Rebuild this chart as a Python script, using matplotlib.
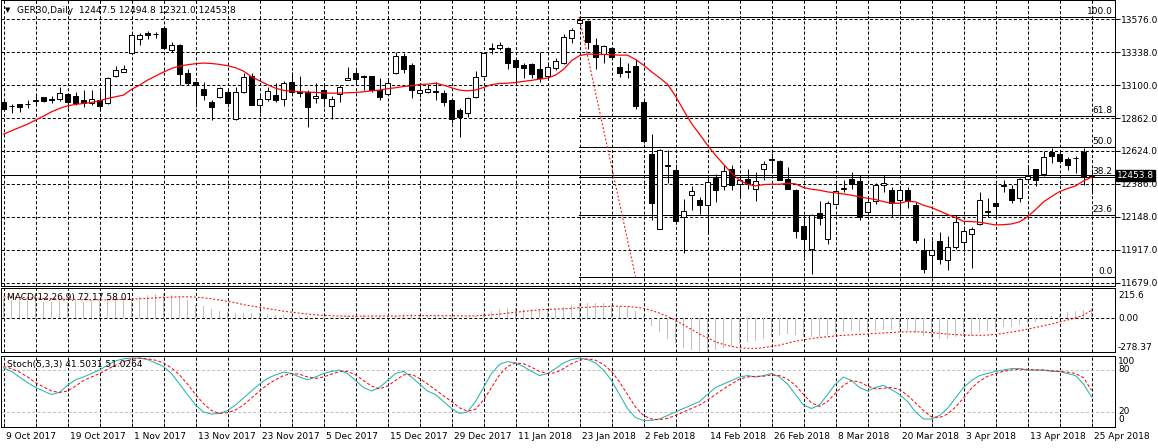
import matplotlib
matplotlib.use("Agg")
import matplotlib.pyplot as plt
import numpy as np

plt.rcParams['font.family'] = ['DejaVu Sans']
plt.rcParams['lines.scale_dashes'] = False

# ---------------- data ----------------
opens = [12982,12953,12963,12968,12994,13013,13004,13004,13035,13023,12994,12975,12994,12970,13165,13198,13330,13431,13475,13472,
         13511,13357,13391,13186,13124,13071,12980,13013,13052,12859,13049,13169,12960,13001,13028,13001,13124,13056,13052,13006,
         13064,12953,13037,13141,13186,13165,13165,13064,13035,13186,13311,13246,13042,13056,13059,13042,12994,12922,12898,13013,
         13165,13369,13367,13367,13282,13246,13254,13215,13169,13222,13258,13443,13547,13564,13391,13323,13367,13230,13201,13239,
         12980,12609,12068,12525,12494,12153,12314,12278,12242,12436,12378,12499,12393,12427,12357,12499,12573,12559,12424,12350,
         12085,11924,12179,11996,12249,12357,12427,12410,12189,12265,12381,12345,12278,12345,12241,11917,11876,11982,11845,11936,
         11972,12032,12104,12189,12256,12383,12357,12290,12424,12496,12465,12621,12604,12573,12580,12621,12447.5]
highs = [12994,12965,12968,12994,13023,13018,13023,13085,13042,13054,13066,13066,13059,13162,13239,13246,13475,13475,13494,13482,
         13528,13415,13398,13215,13133,13126,12994,13090,13066,13085,13186,13186,13042,13085,13119,13131,13193,13169,13066,13114,
         13102,13023,13102,13234,13215,13174,13169,13150,13138,13338,13330,13258,13102,13102,13126,13066,13006,12934,13018,13203,
         13342,13403,13415,13374,13287,13258,13258,13342,13270,13294,13470,13511,13593,13571,13439,13388,13371,13306,13258,13287,
         12994,12749,12643,12638,12537,12285,12374,12297,12441,12465,12528,12525,12446,12501,12477,12554,12614,12566,12511,12354,
         12165,12177,12266,12270,12393,12417,12475,12453,12297,12398,12453,12369,12364,12369,12261,12003,11984,12044,12013,12165,
         12085,12080,12333,12292,12393,12422,12381,12436,12525,12501,12626,12650,12621,12585,12595,12650,12494.8]
lows = [12922,12903,12910,12934,12963,12982,12970,12989,12934,12958,12946,12958,12922,12963,13162,13196,13328,13391,13431,13439,
        13359,13343,13100,13102,12946,12994,12850,13006,12946,12850,13042,12958,12898,12989,12982,12953,13030,13013,12802,12970,
        12946,12855,12982,13138,13102,13066,13054,12994,13030,13179,13186,13011,13013,13042,12994,12953,12826,12730,12874,13006,
        13162,13323,13355,13215,13119,13150,13150,13126,13162,13210,13254,13403,13535,13359,13215,13258,13294,13162,13150,12927,
        12686,12133,12066,12398,12124,11893,12205,12172,12037,12261,12350,12350,12297,12357,12268,12422,12470,12417,12354,12001,
        11864,11740,12092,11960,12237,12333,12357,12129,12172,12244,12333,12153,12165,12217,11965,11749,11722,11816,11768,11924,
        11907,11785,12092,12153,12153,12333,12256,12261,12412,12379,12446,12544,12544,12489,12470,12386,12321.0]
closes = [12929,12948,12946,12963,12987,12989,12994,13042,12982,12975,12970,13004,12955,13150,13208,13220,13463,13460,13465,13467,
          13367,13391,13179,13119,13100,13030,12946,13078,12970,13052,13162,12960,13001,13061,12994,13114,13054,13047,12941,13025,
          13006,13001,13092,13155,13148,13157,13066,13018,13114,13311,13220,13064,13066,13071,13054,12982,12855,12874,13006,13157,
          13330,13364,13388,13258,13234,13225,13181,13150,13230,13275,13451,13499,13571,13415,13306,13383,13302,13191,13193,12953,
          12701,12254,12638,12520,12124,12196,12342,12242,12407,12350,12480,12386,12422,12388,12415,12537,12566,12422,12354,12054,
          11994,12165,12148,12256,12342,12364,12391,12153,12263,12386,12400,12254,12345,12268,11984,11778,11915,11852,11936,12116,
          12052,12068,12278,12193,12229,12379,12273,12429,12446,12417,12585,12592,12556,12525,12576,12441,12453.8]
ma = [12749,12773,12797,12821,12850,12879,12910,12934,12953,12963,12970,12977,12989,13006,13018,13030,13071,13102,13138,13167,
      13196,13222,13239,13249,13256,13261,13258,13251,13242,13227,13203,13162,13133,13105,13080,13064,13059,13054,13052,13049,
      13047,13044,13044,13047,13049,13054,13061,13066,13076,13083,13092,13097,13107,13109,13116,13102,13083,13066,13061,13066,
      13085,13105,13114,13116,13121,13129,13136,13145,13153,13174,13215,13278,13314,13326,13323,13323,13321,13318,13318,13287,
      13246,13198,13155,13109,13023,12922,12826,12749,12669,12597,12532,12470,12417,12388,12376,12386,12388,12388,12395,12391,
      12364,12352,12345,12333,12326,12318,12309,12297,12287,12278,12263,12251,12251,12266,12261,12237,12220,12196,12170,12148,
      12121,12119,12114,12105,12095,12097,12102,12117,12153,12205,12261,12299,12335,12357,12376,12412,12439]

macd_main = [140,132,135,132,135,123,123,135,123,135,123,135,130,135,148,135,135,
             156,174,182,187,174,161,135,
             97,89,64,54,46,33,33,33,33,26,20,20,13,13,
             10,8,5,5,8,12,15,18,15,12,10,15,25,25,20,18,15,10,
             5,0,5,15,35,55,70,75,72,70,68,66,66,68,80,95,110,
             115,112,110,100,90,80,50,10,
             -60,-110,-160,-200,-235,-250,-258,-255,-245,-235,
             -220,-205,-190,-178,-165,-150,-135,-125,-135,-150,-150,-145,-135,-125,
             -110,-105,-110,-105,-100,-95,-95,-90,-95,-115,-140,-155,-160,-160,-150,-140,
             -130,-110,-100,-90,-75,-70,-55,-40,-30,-10,10,25,40,50,60,72.17]
macd_signal = [160,158,155,152,150,148,146,144,142,140,138,137,137,137,138,140,142,
               145,148,152,155,158,160,160,
               158,152,145,135,125,115,100,90,80,70,60,50,42,35,
               28,22,18,15,13,12,12,12,13,13,13,13,14,15,16,16,16,15,
               15,14,13,14,17,22,28,35,42,48,54,60,64,66,68,72,76,
               80,84,86,88,88,86,80,72,
               55,35,10,-20,-55,-90,-125,-155,-185,-205,
               -220,-230,-235,-235,-230,-220,-210,-195,-180,-170,-160,-152,-146,-140,
               -135,-132,-128,-125,-120,-117,-113,-110,-108,-108,-110,-115,-120,-125,-130,-133,
               -135,-135,-133,-128,-120,-110,-100,-88,-75,-62,-48,-33,-18,-2,20,58.01]
stoch_k = [83,78,70,62,55,50,45,48,58,66,70,75,80,87,93,96,97,
           97,95,90,85,75,60,45,30,20,17,18,22,30,40,50,60,68,
           73,77,75,70,66,70,75,78,80,75,65,55,50,55,65,75,78,
           70,60,50,45,35,25,18,20,35,55,75,88,92,90,85,78,72,
           75,82,90,95,97,95,90,80,65,45,25,12,8,8,10,15,20,
           25,30,35,45,55,60,65,70,72,70,72,75,70,60,45,30,25,
           30,45,60,70,65,55,50,55,58,52,45,35,20,10,10,15,25,
           40,55,65,72,75,78,80,82,82,80,80,80,78,78,75,72,60,41.5031]
stoch_d = [85,82,77,70,62,56,50,48,50,57,65,70,75,81,87,92,95,
           97,96,94,90,83,73,60,45,32,22,18,19,23,30,40,50,59,
           66,72,75,74,70,68,70,74,78,78,73,65,57,53,57,65,73,
           74,68,60,52,43,35,26,21,24,37,55,73,85,90,89,84,78,
           75,76,82,89,94,96,94,88,78,63,45,27,15,10,9,11,15,
           20,25,30,37,45,53,60,67,70,71,71,73,72,67,58,45,33,
           28,35,47,58,65,63,57,53,54,55,52,44,33,22,13,12,17,
           27,40,54,64,71,75,78,80,81,81,80,80,79,78,77,75,69,51.0264]

price_ticks = [13576.0, 13338.0, 13100.0, 12862.0, 12624.0, 12386.0, 12148.0, 11917.0, 11679.0]
date_labels = ['9 Oct 2017', '19 Oct 2017', '1 Nov 2017', '13 Nov 2017', '23 Nov 2017', '5 Dec 2017',
               '15 Dec 2017', '29 Dec 2017', '11 Jan 2018', '23 Jan 2018', '2 Feb 2018', '14 Feb 2018',
               '26 Feb 2018', '8 Mar 2018', '20 Mar 2018', '3 Apr 2018', '13 Apr 2018', '25 Apr 2018']
fib_high, fib_low = 13593, 11722
fib_start, fib_end = 72, 79
fib_levels = [100.0, 61.8, 50.0, 38.2, 23.6, 0.0]
bid = 12453.8
header = "GER30,Daily  12447.5 12494.8 12321.0 12453.8"

# ---------------- layout ----------------
W, H = 1158, 448
fig = plt.figure(figsize=(W / 100, H / 100), dpi=100)
fig.patch.set_facecolor('white')

def rect(x0, y0, x1, y1):
    return [x0 / W, 1 - y1 / H, (x1 - x0) / W, (y1 - y0) / H]

X0, X1 = 0.5, 1114.5
ax = fig.add_axes(rect(X0, 0.5, X1, 285.7))
axm = fig.add_axes(rect(X0, 287.7, X1, 352.3))
axs = fig.add_axes(rect(X0, 356.0, X1, 426.7))

n = len(closes)
idx = np.arange(n)
xl = ((X0 - 3.5) / 8, (X1 - 3.5) / 8)

LW = 0.72
DASH = (0, (2.2, 1.5))
for a in (ax, axm, axs):
    a.set_xlim(*xl)
    a.set_facecolor('white')
    for s in a.spines.values():
        s.set_linewidth(LW)
        s.set_color('black')
    a.set_xticks([])
    a.tick_params(axis='y', which='both', left=False, right=False, labelleft=False, labelright=False)
    for k in range(0, n, 4):
        a.axvline(k, color='black', lw=LW, ls=DASH, zorder=0.5)

# ---------------- main price panel ----------------
pp = 7.202
ax.set_ylim(13576 - (285.7 - 19.3) * pp, 13576 + (19.3 - 0.5) * pp)
grid_levels = np.linspace(13576, 11679, len(price_ticks))
for g in grid_levels:
    ax.axhline(g, color='black', lw=LW, ls=DASH, zorder=0.5)
ax.yaxis.tick_right()
ax.set_yticks(grid_levels)
ax.set_yticklabels(['%.1f' % v for v in price_ticks])
ax.tick_params(axis='y', right=True, labelright=True, direction='out', length=3.5, width=LW,
               labelsize=6.5, pad=1.5, colors='black')

o = np.array(opens, float); c = np.array(closes, float)
h = np.array(highs, float); l = np.array(lows, float)
ax.vlines(idx, l, h, color='black', lw=LW, zorder=3)
up = c >= o
body_lo = np.minimum(o, c)
body_h = np.maximum(np.abs(c - o), 1.0)
ax.bar(idx[up], body_h[up], bottom=body_lo[up], width=0.56, color='white', edgecolor='black', lw=LW, zorder=4)
ax.bar(idx[~up], body_h[~up], bottom=body_lo[~up], width=0.56, color='black', edgecolor='black', lw=LW, zorder=4)
ax.plot(idx, ma, color='red', lw=0.9, zorder=5)

# fibonacci
for lv in fib_levels:
    p = fib_low + (fib_high - fib_low) * lv / 100.0
    ax.plot([fib_start - 0.05, xl[1]], [p, p], color='black', lw=LW, zorder=2)
    ax.text(1112.5 / 8 - 3.5 / 8, p + 8, '%.1f' % lv, ha='right', va='bottom', fontsize=6.5, color='black', zorder=6)
ax.plot([fib_start - 0.05, fib_end], [fib_high, fib_low], color='red', lw=LW, ls=(0, (1.4, 1.4)), zorder=2)

# bid line and label
ax.axhline(bid, color='black', lw=LW, zorder=2)
fig.text(1117 / W, 1 - 175.5 / H, '%.1f' % bid, fontsize=6.5, color='white', ha='left', va='center',
         bbox=dict(boxstyle='square,pad=0.12', fc='black', ec='black'))

fig.text(5 / W, 1 - 10.5 / H, '\u25bc', fontsize=5, ha='left', va='center', color='black')
fig.text(17 / W, 1 - 10.5 / H, header, fontsize=6.5, ha='left', va='center', color='black')

# ---------------- MACD panel ----------------
mp = 0.1304
axm.set_ylim(-(352.3 - 317.7) / mp, (317.7 - 287.7) / mp)
axm.bar(idx, macd_main, width=0.18, color='#c0c0c0', zorder=2)
axm.plot(idx, macd_signal, color='red', lw=LW, ls=(0, (1.4, 1.4)), zorder=3)
axm.axhline(0, color='black', lw=LW, ls=DASH, zorder=1)
fig.text(7 / W, 1 - 297.5 / H, 'MACD(12,26,9) 72.17 58.01', fontsize=6.5, ha='left', va='center', color='black')
for txt, yy in (('215.6', 296), ('0.00', 318), ('-278.37', 347)):
    fig.text(1118 / W, 1 - yy / H, txt, fontsize=6.5, ha='left', va='center', color='black')

# ---------------- Stochastic panel ----------------
axs.set_ylim(-1, 100)
axs.axhline(80, color='#c0c0c0', lw=LW, ls=DASH, zorder=1)
axs.axhline(20, color='#c0c0c0', lw=LW, ls=DASH, zorder=1)
axs.plot(idx, stoch_k, color='#20b2aa', lw=LW, zorder=3)
axs.plot(idx, stoch_d, color='red', lw=LW, ls=(0, (2.2, 1.5)), zorder=3)
fig.text(7 / W, 1 - 364 / H, 'Stoch(5,3,3) 41.5031 51.0264', fontsize=6.5, ha='left', va='center', color='black')
for txt, yy in (('100', 361.5), ('80', 369.5), ('20', 411.5), ('0', 419.5)):
    fig.text(1118 / W, 1 - yy / H, txt, fontsize=6.5, ha='left', va='center', color='black')

# x axis
axs.set_xticks(range(0, n, 4))
axs.tick_params(axis='x', direction='in', length=3, width=LW, bottom=True, labelbottom=False)
for i, lab in enumerate(date_labels):
    x = 3.5 + 8 * (i * 8)
    fig.text((x + 2) / W, 1 - 436.5 / H, lab, fontsize=6.5, ha='left', va='center', color='black')

fig.savefig('out.png', dpi=100, facecolor='white')
